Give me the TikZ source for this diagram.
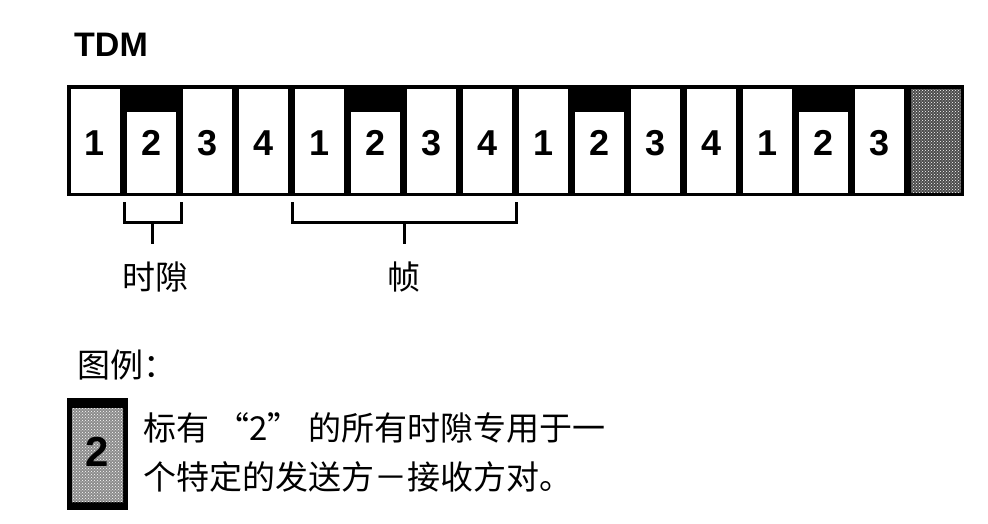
\documentclass[tikz,border=0pt]{standalone}
\usepackage{fontspec}
\setmainfont{Liberation Sans}
\newfontfamily\cjk{Noto Sans CJK SC}
\usetikzlibrary{patterns}
\tikzset{
  digit/.style={font=\fontsize{36}{36}\selectfont\bfseries, inner sep=0pt},
  cjklabel/.style={font=\cjk\fontsize{33}{40}\selectfont, inner sep=0pt},
  bracket/.style={line width=3pt, line cap=rect},
}
\begin{document}
\begin{tikzpicture}[x=1pt,y=-1pt]
\useasboundingbox (0,0) rectangle (988,524);
% title
\node[font=\fontsize{34}{34}\selectfont\bfseries, anchor=west, inner sep=0pt] (tdm) at (74,45) {TDM};
% strip frame
\fill[black] (67,85) rectangle (964,196);
\foreach \i/\lbl in {0/1,1/2,2/3,3/4,4/1,5/2,6/3,7/4,8/1,9/2,10/3,11/4,12/1,13/2,14/3}{
  \pgfmathsetmacro\xl{67+\i*56.0625}
  \pgfmathsetmacro\xr{\xl+52.5}
  \pgfmathsetmacro\xc{\xl+28}
  \pgfmathtruncatemacro\istwo{\lbl==2 ? 1 : 0}
  \ifnum\istwo=1
    \fill[white] (\xl+3.5,112) rectangle (\xr,192.5);
  \else
    \fill[white] (\xl+3.5,89.5) rectangle (\xr,192.5);
  \fi
  \node[digit] (d\i) at (\xc,143) {\lbl};
}
% last textured cell
\pgfmathsetmacro\xl{67+15*56.0625}
\fill[black!70] (\xl+3.5,89.5) rectangle (960.5,192.5);
\fill[pattern=crosshatch dots, pattern color=white] (\xl+3.5,89.5) rectangle (960.5,192.5);
\coordinate (c15) at (\xl+28,143);
% bracket: time slot
\coordinate (sL) at (124,203);
\coordinate (sR) at (181,203);
\coordinate (sM) at (152.5,222);
\node[cjklabel] (slot) at (155,277) {时隙};
\draw[bracket] (sL) |- (sR |- sM) -- (sR);
\draw[bracket] (sM) -- ++(0,20);
% bracket: frame
\coordinate (fL) at (292,203);
\coordinate (fR) at (516,203);
\coordinate (fM) at (404,222);
\node[cjklabel] (frame) at (404,277) {帧};
\draw[bracket] (fL) |- (fR |- fM) -- (fR);
\draw[bracket] (fM) -- ++(0,20);
% legend
\node[cjklabel, anchor=west] (legend) at (77,365) {图例：};
\fill[black] (67,398) rectangle (128,510);
\fill[black!45] (72,408) rectangle (123,502);
\fill[pattern=crosshatch dots, pattern color=white] (72,408) rectangle (123,502);
\node[font=\fontsize{42}{42}\selectfont\bfseries, inner sep=0pt] (lg2) at (97,452) {2};
\node[cjklabel, anchor=west] (l1) at (143,428) {标有 “2” 的所有时隙专用于一};
\node[cjklabel, anchor=west] (l2) at (143,477) {个特定的发送方－接收方对。};
\end{tikzpicture}
\end{document}
